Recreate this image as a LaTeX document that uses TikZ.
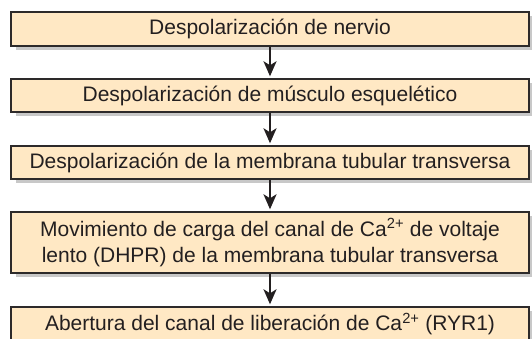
\documentclass[tikz,border=0pt]{standalone}
\usepackage{fontspec}
\setmainfont{Liberation Sans}
\usetikzlibrary{arrows.meta,shadows}
\definecolor{boxfill}{RGB}{255,232,196}
\definecolor{boxline}{RGB}{45,42,42}
\definecolor{shadowgray}{RGB}{200,200,200}
\definecolor{txt}{RGB}{35,31,32}
\tikzset{
  stepbox/.style={draw=boxline, line width=1.4pt, fill=boxfill, text=txt,
    minimum width=518pt, inner sep=0pt, align=center,
    font=\fontsize{21pt}{26pt}\selectfont,
    drop shadow={shadow xshift=5pt, shadow yshift=-4pt, fill=shadowgray, opacity=1}},
  flow/.style={draw=txt, line width=2.2pt, -{Stealth[length=15pt,width=13pt,inset=4pt]}, shorten >=2pt}
}
\begin{document}
\begin{tikzpicture}[x=1pt,y=-1pt]
\useasboundingbox (0,0) rectangle (532,339);
\node[stepbox, minimum height=34pt] (n1) at (270,29) {Despolarización de nervio};
\node[stepbox, minimum height=33pt] (n2) at (270,95.5) {Despolarización de músculo esquelético};
\node[stepbox, minimum height=33pt] (n3) at (270,162.5) {Despolarización de la membrana tubular transversa};
\node[stepbox, minimum height=61pt] (n4) at (270,242.5) {Movimiento de carga del canal de Ca\textsuperscript{2+} de voltaje\\lento (DHPR) de la membrana tubular transversa};
\node[stepbox, minimum height=34pt] (n5) at (270,324) {Abertura del canal de liberación de Ca\textsuperscript{2+} (RYR1)};
\draw[flow] (n1) -- (n2);
\draw[flow] (n2) -- (n3);
\draw[flow] (n3) -- (n4);
\draw[flow] (n4) -- (n5);
\end{tikzpicture}
\end{document}
